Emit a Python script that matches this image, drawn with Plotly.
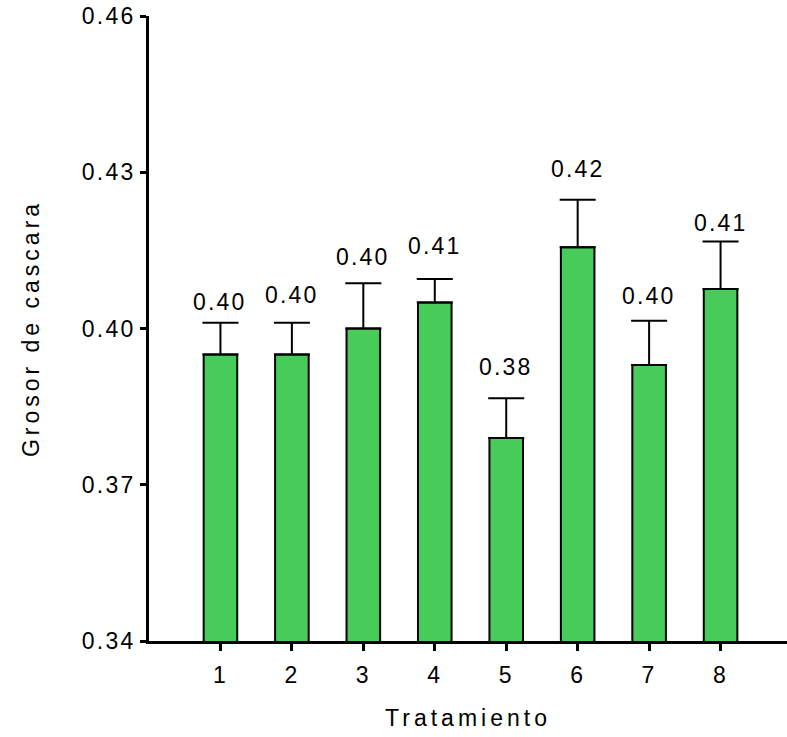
import plotly.graph_objects as go

# Shell thickness per treatment: mean and standard error
tratamientos = [1, 2, 3, 4, 5, 6, 7, 8]
grosor_medio = [0.395, 0.395, 0.400, 0.405, 0.379, 0.4156, 0.393, 0.4076]
error_std = [0.0061, 0.0061, 0.0087, 0.0045, 0.0076, 0.0091, 0.0085, 0.0091]
etiquetas = ["0.40", "0.40", "0.40", "0.41", "0.38", "0.42", "0.40", "0.41"]
y_ticks = [0.34, 0.37, 0.40, 0.43, 0.46]
y_ticktext = ["0.34", "0.37", "0.40", "0.43", "0.46"]

# pixel lift of each value label above its error cap
label_lift = [6, 13, 11, 18, 16, 16, 10, 4]

FONT = "Liberation Sans"
SP = '<span style="letter-spacing:2.2px">{}</span>'
SP_TITLE = '<span style="letter-spacing:4px">{}</span>'

fig = go.Figure()
fig.add_trace(go.Bar(
    x=tratamientos,
    y=grosor_medio,
    width=0.47,
    marker=dict(color="#47CC5A", line=dict(color="black", width=2)),
    error_y=dict(type="data", array=error_std, symmetric=False,
                 arrayminus=[0] * len(error_std),
                 color="black", thickness=2, width=18),
    showlegend=False,
))

for x, m, e, t, lift in zip(tratamientos, grosor_medio, error_std, etiquetas, label_lift):
    fig.add_annotation(x=x, y=m + e, text=SP.format(t), showarrow=False,
                       yanchor="bottom", yshift=lift,
                       font=dict(family=FONT, size=23, color="black"))

fig.update_layout(
    width=787, height=737,
    margin=dict(l=149, r=0, t=16, b=96),
    plot_bgcolor="white", paper_bgcolor="white",
    font=dict(family=FONT, size=23, color="black"),
    bargap=0.5,
)
fig.update_xaxes(
    range=[0, 8.93], tickmode="array", tickvals=tratamientos,
    ticktext=[SP.format(v) for v in tratamientos],
    tickfont=dict(family=FONT, size=23),
    ticklabelstandoff=4,
    showline=True, linecolor="black", linewidth=3,
    ticks="outside", ticklen=7, tickwidth=3, tickcolor="black",
    showgrid=False, zeroline=False,
    title=dict(text=SP_TITLE.format("Tratamiento"), standoff=24,
               font=dict(family=FONT, size=23)),
)
fig.update_yaxes(
    range=[0.34, 0.46], tickmode="array", tickvals=y_ticks,
    ticktext=[SP.format(v) for v in y_ticktext],
    tickfont=dict(family=FONT, size=23),
    showline=True, linecolor="black", linewidth=3,
    ticks="outside", ticklen=6, tickwidth=3, tickcolor="black",
    showgrid=False, zeroline=False,
    title=dict(text=SP_TITLE.format("Grosor de cascara"), standoff=36,
               font=dict(family=FONT, size=23)),
)

fig.write_html("out.html")
